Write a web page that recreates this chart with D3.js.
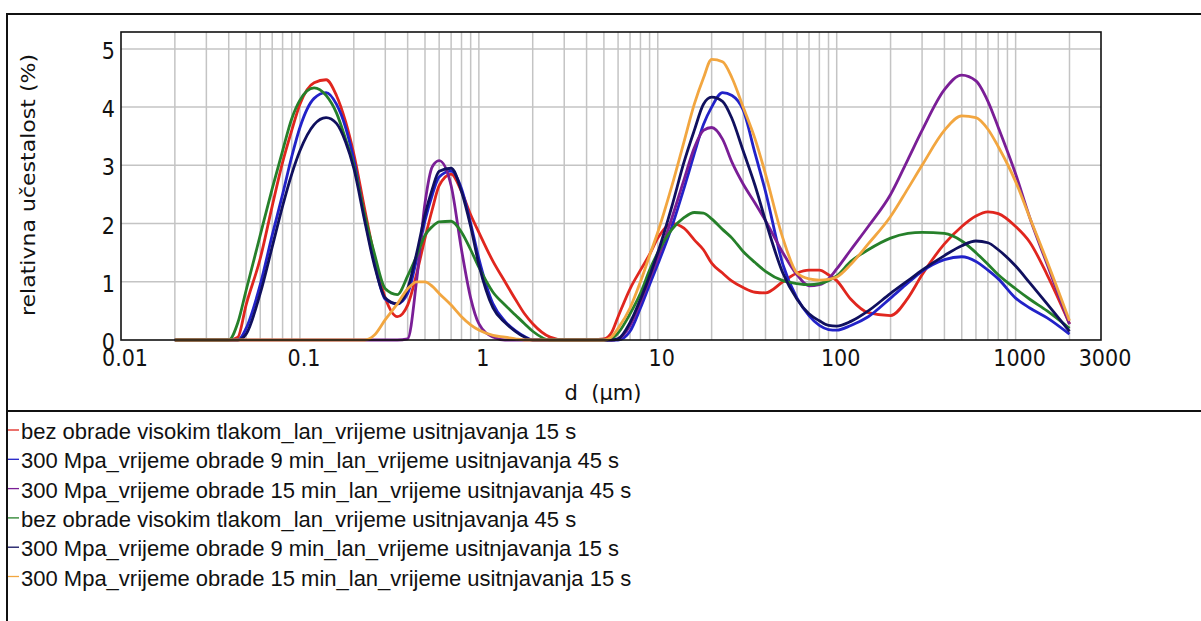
<!DOCTYPE html>
<html>
<head>
<meta charset="utf-8">
<script src="https://cdn.jsdelivr.net/npm/d3@7"></script>
<style>
    body { margin: 0; background: #fff; }
    text { fill: #111; }
</style>
</head>
<body>
<svg id="chart" width="1201" height="621"></svg>
<script>
// size classes (µm) shared by all six runs
const sizes = [0.02, 0.03, 0.04, 0.045, 0.05, 0.06, 0.07, 0.08, 0.09, 0.1,
    0.12, 0.14, 0.16, 0.18, 0.2, 0.23, 0.26, 0.3, 0.35, 0.4,
    0.45, 0.5, 0.55, 0.6, 0.7, 0.8, 0.9, 1, 1.2, 1.4,
    1.6, 1.8, 2, 2.5, 3, 4, 5, 5.5, 6, 7,
    8, 9, 10, 12, 14, 16, 18, 20, 23, 26,
    30, 35, 40, 50, 60, 70, 80, 90, 100, 120,
    150, 200, 250, 300, 400, 500, 600, 700, 800, 1000,
    1200, 1500, 2000];

// relative frequency (%) per run
const bezObrade15 = [0, 0, 0, 0.05, 0.6, 1.4, 2.3, 3.05, 3.6, 4.05,
    4.42, 4.47, 4.2, 3.75, 3.2, 2.25, 1.45, 0.72, 0.4, 0.6,
    1.15, 1.75, 2.25, 2.65, 2.85, 2.55, 2.15, 1.85, 1.35, 1.0,
    0.7, 0.45, 0.28, 0.05, 0, 0, 0.02, 0.12, 0.4, 0.88,
    1.2, 1.47, 1.75, 2.0, 1.92, 1.72, 1.55, 1.32, 1.15, 1.01,
    0.9, 0.82, 0.81, 1.0, 1.15, 1.2, 1.2, 1.12, 1.02, 0.7,
    0.47, 0.42, 0.72, 1.12, 1.65, 1.95, 2.13, 2.2, 2.17, 1.95,
    1.68, 1.12, 0.28];
const mpa9min45 = [0, 0, 0, 0, 0.2, 0.95, 1.8, 2.5, 3.15, 3.65,
    4.15, 4.25, 4.05, 3.65, 3.1, 2.1, 1.35, 0.7, 0.62, 0.8,
    1.4, 2.05, 2.5, 2.8, 2.9, 2.6, 2.0, 1.4, 0.62, 0.32,
    0.16, 0.06, 0, 0, 0, 0, 0, 0, 0, 0.15,
    0.55, 0.95, 1.3, 1.95, 2.6, 3.2, 3.7, 4.0, 4.25, 4.2,
    3.95, 3.2, 2.55, 1.3, 0.72, 0.42, 0.25, 0.18, 0.17, 0.25,
    0.4, 0.72, 0.98, 1.18, 1.38, 1.43, 1.35, 1.2, 1.05, 0.72,
    0.55, 0.38, 0.1];
const mpa15min45 = [0, 0, 0, 0, 0, 0, 0, 0, 0, 0,
    0, 0, 0, 0, 0, 0, 0, 0, 0, 0.02,
    1.05, 2.35, 2.98, 3.08, 2.65, 1.55, 0.72, 0.28, 0.05, 0,
    0, 0, 0, 0, 0, 0, 0, 0, 0.02, 0.25,
    0.65, 1.05, 1.4, 2.1, 2.75, 3.3, 3.6, 3.65, 3.45, 3.05,
    2.68, 2.35, 2.05, 1.5, 1.12, 0.93, 0.95, 1.05, 1.22, 1.55,
    1.95, 2.5, 3.1, 3.6, 4.3, 4.55, 4.45, 4.1, 3.65, 2.85,
    2.1, 1.3, 0.27];
const bezObrade45 = [0, 0, 0, 0.3, 0.85, 1.8, 2.6, 3.25, 3.8, 4.12,
    4.33, 4.2, 3.9, 3.45, 3.0, 2.15, 1.5, 0.88, 0.78, 1.1,
    1.45, 1.8, 1.95, 2.03, 2.04, 1.85, 1.55, 1.25, 0.82, 0.6,
    0.43, 0.28, 0.15, 0, 0, 0, 0, 0.02, 0.12, 0.45,
    0.8, 1.2, 1.5, 1.9, 2.1, 2.19, 2.18, 2.08, 1.9, 1.75,
    1.52, 1.33, 1.18, 1.02, 0.97, 0.95, 0.97, 1.02, 1.1, 1.35,
    1.55, 1.75, 1.83, 1.85, 1.83, 1.7, 1.5, 1.3, 1.12, 0.88,
    0.7, 0.5, 0.2];
const mpa9min15 = [0, 0, 0, 0, 0.1, 0.8, 1.6, 2.3, 2.85, 3.25,
    3.7, 3.82, 3.72, 3.4, 2.95, 2.05, 1.3, 0.72, 0.62, 0.88,
    1.5, 2.15, 2.6, 2.9, 2.95, 2.55, 1.95, 1.3, 0.55, 0.3,
    0.15, 0.05, 0, 0, 0, 0, 0, 0, 0.02, 0.3,
    0.7, 1.1, 1.5, 2.3, 3.05, 3.6, 4.05, 4.17, 4.1, 3.8,
    3.25, 2.65, 2.05, 1.15, 0.7, 0.45, 0.33, 0.25, 0.24, 0.32,
    0.5, 0.8, 1.02, 1.2, 1.45, 1.62, 1.7, 1.67, 1.55, 1.27,
    0.98, 0.62, 0.15];
const mpa15min15 = [0, 0, 0, 0, 0, 0, 0, 0, 0, 0,
    0, 0, 0, 0, 0, 0, 0.08, 0.35, 0.62, 0.88,
    1.0, 1.0, 0.92, 0.8, 0.6, 0.4, 0.26, 0.17, 0.08, 0.05,
    0.02, 0, 0, 0, 0, 0, 0, 0.05, 0.2, 0.55,
    1.0, 1.45, 1.85, 2.65, 3.4, 4.05, 4.5, 4.82, 4.78, 4.5,
    4.0, 3.45, 2.85, 1.75, 1.15, 1.05, 1.03, 1.04, 1.08, 1.3,
    1.65, 2.12, 2.6, 3.0, 3.6, 3.85, 3.82, 3.62, 3.32, 2.72,
    2.1, 1.35, 0.33];

const seriesNames = [
    'bez obrade visokim tlakom_lan_vrijeme usitnjavanja 15 s',
    '300 Mpa_vrijeme obrade 9 min_lan_vrijeme usitnjavanja 45 s',
    '300 Mpa_vrijeme obrade 15 min_lan_vrijeme usitnjavanja 45 s',
    'bez obrade visokim tlakom_lan_vrijeme usitnjavanja 45 s',
    '300 Mpa_vrijeme obrade 9 min_lan_vrijeme usitnjavanja 15 s',
    '300 Mpa_vrijeme obrade 15 min_lan_vrijeme usitnjavanja 15 s'
];
const seriesValues = [bezObrade15, mpa9min45, mpa15min45, bezObrade45, mpa9min15, mpa15min15];
const seriesColors = ['#e0261e', '#2222c8', '#7a1e96', '#26802a', '#10105e', '#f2a640'];

const xTickValues = [0.01, 0.1, 1, 10, 100, 1000, 3000];
const yTickValues = [0, 1, 2, 3, 4, 5];

const W = 1201, H = 621;
const plot = { left: 121, right: 1101, top: 32, bottom: 340 };

const svg = d3.select('#chart');
svg.append('rect').attr('width', W).attr('height', H).attr('fill', '#fff');

var x = d3.scaleLog().domain([0.01, 3000]).range([plot.left, plot.right]);
var y = d3.scaleLinear().domain([0, 5.29]).range([plot.bottom, plot.top]);

// outer box + separator above the legend
svg.append('path')
    .attr('d', `M${W},14 H7 V${H}`)
    .attr('fill', 'none').attr('stroke', '#111').attr('stroke-width', 2);
svg.append('line')
    .attr('x1', 7).attr('x2', W).attr('y1', 411).attr('y2', 411)
    .attr('stroke', '#111').attr('stroke-width', 2);

// grid
var grid = svg.append('g').attr('stroke', '#c4c4c4').attr('stroke-width', 1.5);
x.ticks().filter(t => t > 0.01 && t < 3000).forEach(t => {
    grid.append('line')
        .attr('x1', x(t)).attr('x2', x(t))
        .attr('y1', plot.top).attr('y2', plot.bottom);
});
yTickValues.filter(t => t > 0).forEach(t => {
    grid.append('line')
        .attr('x1', plot.left).attr('x2', plot.right)
        .attr('y1', y(t)).attr('y2', y(t));
});

// curves
var line = d3.line()
    .x((d, i) => x(sizes[i]))
    .y(d => y(d))
    .curve(d3.curveMonotoneX);

seriesValues.forEach((vals, k) => {
    svg.append('path')
        .datum(vals)
        .attr('d', line)
        .attr('fill', 'none')
        .attr('stroke', seriesColors[k])
        .attr('stroke-width', 2.8)
        .attr('stroke-linejoin', 'round');
});

// plot frame
svg.append('rect')
    .attr('x', plot.left).attr('y', plot.top)
    .attr('width', plot.right - plot.left).attr('height', plot.bottom - plot.top)
    .attr('fill', 'none').attr('stroke', '#111').attr('stroke-width', 1.6);

var tickFont = '"DejaVu Sans Condensed", "DejaVu Sans", sans-serif';

svg.append('g').selectAll('text')
    .data(xTickValues)
    .join('text')
    .attr('x', d => x(d) + 4)
    .attr('y', 366)
    .attr('text-anchor', 'middle')
    .style('font-family', tickFont)
    .style('font-size', '23px')
    .text(d => d3.format('~g')(d));

svg.append('g').selectAll('text')
    .data(yTickValues)
    .join('text')
    .attr('x', 115)
    .attr('y', d => y(d) + 10)
    .attr('text-anchor', 'end')
    .style('font-family', tickFont)
    .style('font-size', '23px')
    .text(d => d);

// axis titles
svg.append('text')
    .attr('transform', 'translate(35,185) rotate(-90)')
    .attr('text-anchor', 'middle')
    .style('font-family', '"DejaVu Sans", sans-serif')
    .style('font-size', '20px')
    .attr('textLength', 262)
    .attr('lengthAdjust', 'spacingAndGlyphs')
    .text('relativna učestalost (%)');

svg.append('text')
    .attr('x', 603).attr('y', 400)
    .attr('text-anchor', 'middle')
    .style('font-family', '"DejaVu Sans", sans-serif')
    .style('font-size', '21px')
    .style('white-space', 'pre')
    .text('d  (µm)');

// legend
var legend = svg.append('g');
seriesNames.forEach((name, k) => {
    var cy = 431 + k * 29.3;
    legend.append('line')
        .attr('x1', 8).attr('x2', 19)
        .attr('y1', cy - 1).attr('y2', cy - 1)
        .attr('stroke', seriesColors[k]).attr('stroke-width', 1.3);
    legend.append('text')
        .attr('x', 21).attr('y', cy + 8)
        .style('font-family', '"Liberation Sans", Arial, sans-serif')
        .style('font-size', '22px')
        .text(name);
});
</script>
</body>
</html>
